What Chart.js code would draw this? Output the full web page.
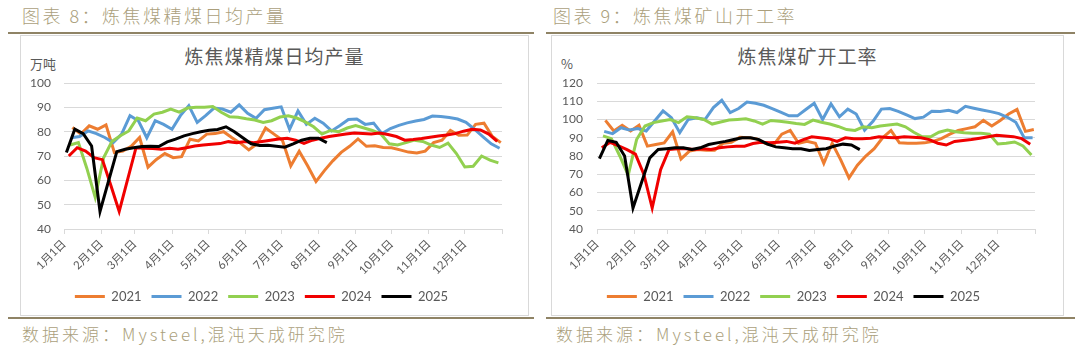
<!DOCTYPE html>
<html>
<head>
<meta charset="utf-8">
<script src="https://cdn.jsdelivr.net/npm/chart.js@4/dist/chart.umd.min.js"></script>
<style>
  body { margin: 0; background: #fff; width: 1080px; height: 350px; position: relative; overflow: hidden; font-family: "Noto Sans CJK SC", sans-serif; }
  .hdr { position: absolute; top: 2px; font-size: 18px; color: #ab9f7c; letter-spacing: 2.5px; font-weight: 300; }
  .src { position: absolute; top: 321px; font-size: 17px; color: #ab9f7c; letter-spacing: 3px; font-weight: 300; font-family: "Liberation Sans Narrow", "Noto Sans CJK SC", sans-serif; }
  .rule { position: absolute; height: 2px; background: #8f8365; }
  .box { position: absolute; border: 1px solid #d9d9d9; box-sizing: border-box; }
  .ttl { position: absolute; top: 42px; font-size: 19px; color: #595959; text-align: center; letter-spacing: 1px; }
  .unit { position: absolute; top: 54px; font-size: 13px; color: #595959; }
  canvas { position: absolute; }
</style>
</head>
<body>
<div class="hdr" style="left:22px">图表 8：炼焦煤精煤日均产量</div>
<div class="hdr" style="left:553px">图表 9：炼焦煤矿山开工率</div>
<div class="rule" style="left:8px;width:526px;top:32px"></div>
<div class="rule" style="left:546px;width:529px;top:32px"></div>
<div class="box" style="left:20px;top:35px;width:509px;height:281px"></div>
<div class="box" style="left:551px;top:35px;width:513px;height:281px"></div>
<div class="rule" style="left:8px;width:526px;top:317px"></div>
<div class="rule" style="left:546px;width:529px;top:317px"></div>
<div class="src" style="left:22px">数据来源：Mysteel,混沌天成研究院</div>
<div class="src" style="left:556px">数据来源：Mysteel,混沌天成研究院</div>

<div class="ttl" style="left:21px;width:507px">炼焦煤精煤日均产量</div>
<div class="ttl" style="left:552px;width:511px">炼焦煤矿开工率</div>
<div class="unit" style="left:30px">万吨</div>
<div class="unit" style="left:561px">%</div>

<canvas id="prodChart" width="507" height="280" style="left:21px;top:36px"></canvas>
<canvas id="rateChart" width="511" height="280" style="left:552px;top:36px"></canvas>

<script>
// years and the day-of-year of each year's first weekly reading
var years = ["2021", "2022", "2023", "2024", "2025"];
var firstDay = [7, 6, 5, 4, 2];
var lineColors = ["#ED7D31", "#5B9BD5", "#92D050", "#F00000", "#000000"];

// x axis: month starts (day of year) and their labels
var monthDays = [0, 31, 59, 90, 120, 151, 181, 212, 243, 273, 304, 334, 365];
var monthLabels = ["1月1日", "2月1日", "3月1日", "4月1日", "5月1日", "6月1日",
                   "7月1日", "8月1日", "9月1日", "10月1日", "11月1日", "12月1日", ""];

// 炼焦煤精煤日均产量 (万吨), weekly
var prod2021 = [81.7, 79, 82.4, 81, 82.8, 71.4, 72, 74, 77.6, 65.4, 68.6, 71, 69.3, 69.7, 76.9, 76.2, 79, 79.2, 80, 77.5,
                75.3, 72.5, 75, 81.5, 79, 76.5, 66, 72, 66, 59.5, 64, 68, 71.5, 74, 77, 74, 74.2, 73.5, 73.4, 72.5,
                71.6, 71.2, 72, 75.5, 76.5, 80.5, 78.5, 78.6, 83, 83.5, 78, 75.5];
var prod2022 = [77.5, 78, 80.3, 79.2, 77.6, 75.5, 79, 86.6, 84.5, 77.5, 84.5, 83, 81, 86.6, 90.7, 83.8, 86.6, 89.7, 89.3, 88,
                91, 87.5, 85.5, 89, 89.6, 90.2, 81, 88.5, 83, 85.5, 83.5, 80.3, 82.5, 85, 85.2, 83, 83.5, 79.2, 81.3, 82.6,
                83.6, 84.4, 85, 86.4, 86.2, 85.8, 85.2, 83.8, 81, 78, 75, 73.2];
var prod2023 = [74.5, 75.5, 65, 53, 69.3, 76, 78.3, 80.3, 85.6, 84.5, 87.2, 88, 89.3, 88, 89.7, 90, 90, 90.3, 88, 86.1,
                85.9, 85.3, 84.8, 83.8, 84.5, 86, 86.5, 85.6, 84, 82, 79, 80.5, 80, 81.5, 82.5, 81.5, 80.5, 79, 75, 74.5,
                75.5, 76.5, 76, 74.5, 73.5, 75.3, 71, 65.5, 65.8, 70, 68.3, 67.2];
var prod2024 = [70, 73.4, 72, 69.3, 68.5, 58, 47.2, null, 73.4, 73.2, 73.1, 72.8, 73.2, 72.8, 73.4, 74.1, 74.5, 74.8, 75.1, 75.9,
                75.5, 76, 75.5, 76, 76.5, 77, 77.3, 76.5, 75.2, 76.5, 77.3, 78, 78.5, 79, 79.4, 79.2, 79, 79.4, 78.8, 78,
                76.5, 76.8, 77.2, 77.7, 78.2, 78.6, 79.2, 80.2, 81, 80.7, 79, 76];
var prod2025 = [71.4, 81, 79.2, 74.1, 47.2, null, 71.8, 72.8, 73.4, 73.9, 74, 73.9, 75.8, 76.9, 78.3, 79.2, 80, 80.6, 80.9, 82,
                80, 77.5, 75, 74.3, 74.4, 74, 73.6, 75, 76.5, 77.3, 77.3, 75.5];

// 炼焦煤矿山开工率 (%), weekly
var rate2021 = [99.5, 93.7, 96.8, 93.7, 96.8, 85.4, 86.3, 87.2, 93.3, 78.4, 82.7, 83.6, 83.2, 83.2, 87, 87.5, 90.2, 90, 89.4, 87,
                86, 92, 94, 87, 88, 87, 76, 87, 78, 68, 75, 80, 84, 90, 94, 87.2, 87, 87, 87.2, 88,
                89.5, 92, 94, 95, 96, 99.5, 96.5, 99.5, 103, 105.5, 93.5, 94.5];
var rate2022 = [93.5, 92.2, 95.5, 94.2, 95, 93.7, 99.2, 104.7, 101, 92.8, 100, 101, 100, 106.5, 110.5, 103.8, 106, 109.6, 108.9, 107.8,
                106, 104, 102, 102, 105.5, 108.9, 100, 108.5, 101.5, 105.7, 103, 94.2, 99, 105.7, 106, 104.5, 102.5, 100.5, 101.3, 104.5,
                104.4, 105, 103.8, 107.2, 106.2, 105.2, 104.3, 103.2, 101.2, 98.5, 90, 90];
var rate2023 = [91, 89.5, 80, 69.5, 89, 96.4, 98.3, 99.2, 100, 98.3, 101.5, 101, 100, 97.5, 98.6, 99.7, 100, 100.4, 99.2, 97.5,
                99.5, 99, 98.5, 97.8, 97.3, 99.7, 98.5, 97.5, 96.2, 94.5, 94, 96, 95.5, 96.4, 97, 97.5, 96, 93, 90.5, 90.5,
                93, 94.2, 93.3, 92.8, 92.5, 92.5, 92, 86.6, 87, 87.7, 85.5, 80.5];
var rate2024 = [84.5, 87.5, 85.5, 83.5, 81, 70, 51.5, 72.5, 83.5, 84, 84, 83.6, 84, 83.6, 84.5, 85, 85.4, 85.4, 86.8, 87.5,
                87.2, 87.5, 88, 87, 89, 90.5, 90, 89.5, 88, 90, 89.5, 89.5, 89.7, 90.5, 90.2, 90, 90.5, 90.3, 90, 89,
                87, 86, 88, 88.5, 89, 89.7, 90.5, 91.3, 91, 90.6, 89.5, 86.5];
var rate2025 = [78.5, 88.5, 87.5, 80, 51.5, null, 79, 83.6, 84, 84.5, 84.5, 83.6, 84.5, 86.3, 87.2, 88, 89, 90, 90, 89,
                86.5, 85, 84.5, 84, 84, 83, 83.5, 84, 85.5, 86.5, 86, 83.5];

var prodSeries = [prod2021, prod2022, prod2023, prod2024, prod2025];
var rateSeries = [rate2021, rate2022, rate2023, rate2024, rate2025];

var tickFont = { family: 'Lato, "Noto Sans CJK SC", sans-serif', size: 12 };
var axisColor = "#595959";
var gridColor = "#d9d9d9";

function makeDatasets(series) {
  var sets = [];
  for (let k = 0; k < years.length; k++) {
    var pts = [];
    for (let i = 0; i < series[k].length; i++) {
      pts.push({ x: firstDay[k] + 7 * i, y: series[k][i] });
    }
    sets.push({
      label: years[k],
      data: pts,
      borderColor: lineColors[k],
      backgroundColor: lineColors[k],
      borderWidth: 3,
      pointRadius: 0,
      tension: 0,
      spanGaps: true,
      order: years.length - 1 - k
    });
  }
  return sets;
}

function makeChart(id, series, yMin, yMax, yWidth, yPad, rightPad) {
  return new Chart(document.getElementById(id), {
    type: "line",
    data: { datasets: makeDatasets(series) },
    options: {
      responsive: false,
      animation: false,
      layout: { padding: { top: 47, right: rightPad, bottom: 3, left: 0 } },
      plugins: {
        tooltip: { enabled: false },
        legend: {
          position: "bottom",
          labels: {
            usePointStyle: true,
            pointStyle: "line",
            pointStyleWidth: 30,
            boxHeight: 3,
            padding: 10,
            color: axisColor,
            font: { family: 'Lato, "Noto Sans CJK SC", sans-serif', size: 13 },
            sort: function(a, b) { return a.datasetIndex - b.datasetIndex; }
          }
        }
      },
      scales: {
        x: {
          type: "linear",
          min: 0,
          max: 365,
          afterBuildTicks: function(scale) {
            scale.ticks = monthDays.map(function(d) { return { value: d }; });
          },
          afterFit: function(scale) { scale.height = 51; },
          ticks: {
            autoSkip: false,
            maxRotation: 45,
            minRotation: 45,
            color: axisColor,
            font: { family: tickFont.family, size: 11.5 },
            callback: function(value) {
              var idx = monthDays.indexOf(value);
              return idx >= 0 ? monthLabels[idx] : "";
            }
          },
          grid: { drawOnChartArea: false, color: gridColor, tickLength: 5 },
          border: { color: gridColor }
        },
        y: {
          min: yMin,
          max: yMax,
          afterFit: function(scale) { scale.width = yWidth; },
          ticks: { stepSize: 10, color: axisColor, font: tickFont, padding: yPad },
          grid: { color: gridColor, drawTicks: false },
          border: { display: false }
        }
      }
    }
  });
}

makeChart("prodChart", prodSeries, 40, 100, 43, 13, 26);
makeChart("rateChart", rateSeries, 40, 120, 45, 14, 28);
</script>
</body>
</html>
